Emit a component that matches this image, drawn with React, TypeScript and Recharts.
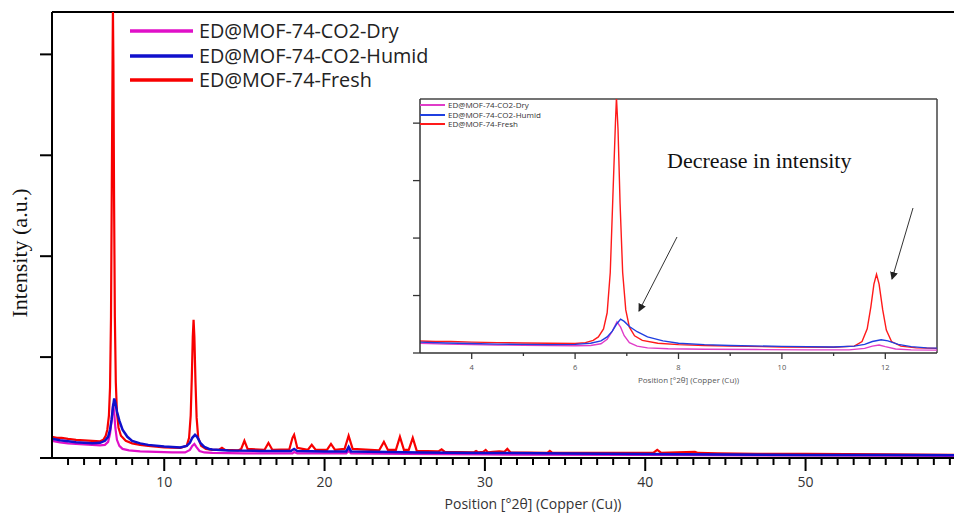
import React from "react";
import { LineChart, Line, XAxis, YAxis, ReferenceLine, Legend, Label } from "recharts";

// XRD patterns, intensity in arbitrary units
const SERIES_NAMES = ["ED@MOF-74-CO2-Dry", "ED@MOF-74-CO2-Humid", "ED@MOF-74-Fresh"];

const freshRaw: [number, number][] = [
  [3.0, 0.21], [3.3, 0.2], [3.6, 0.2], [4.0, 0.19], [4.5, 0.18], [5.0, 0.175], [5.5, 0.17], [6.0, 0.165],
  [6.2, 0.18], [6.35, 0.22], [6.45, 0.28], [6.55, 0.42], [6.62, 0.7], [6.68, 1.4], [6.73, 2.7], [6.78, 4.0],
  [6.8, 4.45], [6.83, 3.9], [6.87, 2.6], [6.92, 1.4], [6.98, 0.75], [7.05, 0.45], [7.15, 0.3], [7.3, 0.22],
  [7.6, 0.17], [8.0, 0.145], [8.5, 0.13], [9.0, 0.12], [10.0, 0.105], [11.0, 0.1], [11.4, 0.12], [11.55, 0.2],
  [11.65, 0.42], [11.72, 0.8], [11.78, 1.2], [11.83, 1.37], [11.88, 1.2], [11.95, 0.75], [12.02, 0.4],
  [12.12, 0.2], [12.3, 0.12], [12.6, 0.09], [13.0, 0.08], [13.4, 0.08], [13.6, 0.1], [13.8, 0.08],
  [14.6, 0.075], [14.8, 0.09], [15.0, 0.17], [15.2, 0.09], [16.25, 0.08], [16.5, 0.15], [16.75, 0.08],
  [17.8, 0.085], [18.0, 0.2], [18.1, 0.23], [18.3, 0.1], [18.95, 0.08], [19.2, 0.13], [19.45, 0.08],
  [20.15, 0.08], [20.4, 0.14], [20.65, 0.08], [21.25, 0.09], [21.5, 0.22], [21.75, 0.09], [23.4, 0.075],
  [23.7, 0.16], [23.95, 0.08], [24.45, 0.08], [24.7, 0.21], [24.95, 0.08], [25.25, 0.08], [25.5, 0.2],
  [25.75, 0.07], [27.1, 0.065], [27.3, 0.085], [27.5, 0.06], [29.3, 0.055], [29.45, 0.07], [29.6, 0.055],
  [29.9, 0.06], [30.05, 0.08], [30.2, 0.055], [30.5, 0.06], [30.9, 0.065], [31.2, 0.06], [31.4, 0.09],
  [31.6, 0.055], [33.9, 0.05], [34.05, 0.07], [34.2, 0.05], [36.5, 0.05], [38.2, 0.05], [40.5, 0.05],
  [40.75, 0.08], [41.0, 0.05], [42.0, 0.055], [43.1, 0.06], [43.3, 0.05], [44.5, 0.045], [47, 0.04],
  [50, 0.04], [55, 0.035], [60, 0.03], [63, 0.03],
];

const humidRaw: [number, number][] = [
  [3.0, 0.19], [3.5, 0.175], [4.0, 0.165], [4.5, 0.155], [5.0, 0.15], [5.5, 0.145], [6.0, 0.15], [6.3, 0.17],
  [6.5, 0.21], [6.62, 0.28], [6.72, 0.38], [6.8, 0.5], [6.88, 0.59], [6.95, 0.55], [7.05, 0.46], [7.2, 0.37],
  [7.4, 0.28], [7.7, 0.21], [8.0, 0.17], [8.5, 0.145], [9.0, 0.13], [10.0, 0.115], [11.0, 0.105],
  [11.4, 0.12], [11.6, 0.15], [11.75, 0.2], [11.92, 0.23], [12.05, 0.21], [12.25, 0.15], [12.5, 0.11],
  [12.8, 0.09], [13.0, 0.085], [14, 0.075], [16, 0.07], [17.9, 0.07], [18.1, 0.09], [18.3, 0.07],
  [20, 0.065], [21.35, 0.065], [21.5, 0.11], [21.65, 0.065], [24, 0.06], [26, 0.055], [30, 0.05],
  [35, 0.045], [40, 0.04], [45, 0.035], [50, 0.03], [55, 0.03], [63, 0.025],
];

const dryRaw: [number, number][] = [
  [3.0, 0.17], [3.5, 0.155], [4.0, 0.145], [4.5, 0.14], [5.0, 0.135], [5.5, 0.13], [6.0, 0.125], [6.3, 0.13],
  [6.5, 0.16], [6.62, 0.24], [6.72, 0.38], [6.81, 0.54], [6.88, 0.45], [6.95, 0.3], [7.05, 0.18], [7.2, 0.12],
  [7.4, 0.09], [7.8, 0.075], [8.5, 0.065], [9.5, 0.06], [10.5, 0.055], [11.3, 0.055], [11.6, 0.08],
  [11.75, 0.12], [11.88, 0.14], [12.0, 0.11], [12.2, 0.07], [12.5, 0.055], [13, 0.05], [15, 0.045],
  [18, 0.045], [18.1, 0.06], [18.3, 0.045], [21.35, 0.045], [21.5, 0.07], [21.65, 0.045], [25, 0.04],
  [30, 0.035], [40, 0.03], [50, 0.025], [63, 0.02],
];

const MAIN_MAJOR_TICKS = [10, 20, 30, 40, 50];
const MAIN_X_TICKS = Array.from({ length: 59 }, (_, i) => i + 4);
const INSET_MAJOR_TICKS = [4, 6, 8, 10, 12];
const INSET_X_TICKS = [4, 5, 6, 7, 8, 9, 10, 11, 12];
const Y_TICKS = [0, 1, 2, 3, 4];

const toPts = (raw: [number, number][]) => raw.map(([x, y]) => ({ x, y }));
const freshData = toPts(freshRaw);
const humidData = toPts(humidRaw);
const dryData = toPts(dryRaw);

const SANS = "'Open Sans', 'Noto Sans', sans-serif";
const SERIF = "'Liberation Serif', 'DejaVu Serif', serif";
const Y_MAX = 4.42;

function MainTick(props: any) {
  const { x, y, payload } = props;
  const major = MAIN_MAJOR_TICKS.includes(payload.value);
  return (
    <g>
      <line x1={x} y1={y} x2={x} y2={y + (major ? 13 : 7)} stroke="#000" strokeWidth={2} />
      {major && (
        <text x={x} y={y + 29} textAnchor="middle" fontSize={14} fill="#333" fontFamily={SANS}>
          {payload.value}
        </text>
      )}
    </g>
  );
}

function InsetTick(props: any) {
  const { x, y, payload } = props;
  const major = INSET_MAJOR_TICKS.includes(payload.value);
  return (
    <g>
      <line x1={x} y1={y} x2={x} y2={y + (major ? 6 : 3)} stroke="#333" strokeWidth={1.3} />
      {major && (
        <text x={x} y={y + 17} textAnchor="middle" fontSize={7.5} fill="#555" fontFamily={SANS}>
          {payload.value}
        </text>
      )}
    </g>
  );
}

const NoLabel = () => <g />;

const sortByName = (payload: any[] = []) =>
  [...payload].sort((a, b) => SERIES_NAMES.indexOf(a.value) - SERIES_NAMES.indexOf(b.value));

function MainLegend({ payload }: any) {
  return (
    <div>
      {sortByName(payload).map((p: any) => (
        <div key={p.value} style={{ display: "flex", alignItems: "center", height: 24.5 }}>
          <svg width={63} height={6} style={{ marginRight: 6 }}>
            <line x1={0} y1={3} x2={63} y2={3} stroke={p.color} strokeWidth={3.5} />
          </svg>
          <span style={{ fontFamily: SANS, fontSize: 19.8, color: "#222", lineHeight: 1 }}>{p.value}</span>
        </div>
      ))}
    </div>
  );
}

function InsetLegend({ payload }: any) {
  return (
    <div>
      {sortByName(payload).map((p: any) => (
        <div key={p.value} style={{ display: "flex", alignItems: "center", height: 9.7 }}>
          <svg width={25} height={4} style={{ marginRight: 3 }}>
            <line x1={0} y1={2} x2={25} y2={2} stroke={p.color} strokeWidth={2} />
          </svg>
          <span style={{ fontFamily: SANS, fontSize: 8, color: "#333", lineHeight: 1 }}>{p.value}</span>
        </div>
      ))}
    </div>
  );
}

export default function App() {
  return (
    <div style={{ position: "fixed", left: 0, top: 0, width: 954, height: 517, overflow: "hidden", background: "#fff" }}>
      {/* main pattern */}
      <div style={{ position: "absolute", left: 0, top: 0 }}>
        <LineChart width={1014} height={517} margin={{ top: 12, right: 0, bottom: 58, left: 51 }}>
          <XAxis
            type="number"
            dataKey="x"
            domain={[3, 63]}
            allowDataOverflow
            ticks={MAIN_X_TICKS}
            interval={0}
            height={1}
            tickSize={0}
            tickMargin={0}
            tickLine={false}
            tick={(p: any) => <MainTick {...p} />}
            axisLine={{ stroke: "#000", strokeWidth: 2 }}
          >
            <Label
              value="Position [°2θ] (Copper (Cu))"
              position="bottom"
              offset={40}
              style={{ fontSize: 14, fill: "#333", fontFamily: SANS }}
            />
          </XAxis>
          <YAxis
            type="number"
            domain={[0, Y_MAX]}
            allowDataOverflow
            ticks={Y_TICKS}
            interval={0}
            width={1}
            tick={NoLabel}
            tickSize={12}
            tickLine={{ stroke: "#000", strokeWidth: 2 }}
            axisLine={{ stroke: "#000", strokeWidth: 2 }}
          />
          <ReferenceLine y={Y_MAX} stroke="#000" strokeWidth={2} />
          <Legend
            layout="vertical"
            align="center"
            verticalAlign="middle"
            wrapperStyle={{ left: 130, top: 19, width: "auto", height: "auto" }}
            content={(p: any) => <MainLegend {...p} />}
          />
          <Line data={freshData} dataKey="y" name={SERIES_NAMES[2]} stroke="#f80000" strokeWidth={2.2} dot={false} isAnimationActive={false} />
          <Line data={dryData} dataKey="y" name={SERIES_NAMES[0]} stroke="#e010c8" strokeWidth={2.2} dot={false} isAnimationActive={false} />
          <Line data={humidData} dataKey="y" name={SERIES_NAMES[1]} stroke="#1010cc" strokeWidth={2.5} dot={false} isAnimationActive={false} />
        </LineChart>
      </div>

      {/* inset zoom 3-13 °2θ */}
      <div style={{ position: "absolute", left: 400, top: 90 }}>
        <LineChart width={554} height={300} margin={{ top: 9, right: 17, bottom: 36, left: 19 }}>
          <XAxis
            type="number"
            dataKey="x"
            domain={[3, 13]}
            allowDataOverflow
            ticks={INSET_X_TICKS}
            interval={0}
            height={1}
            tickSize={0}
            tickMargin={0}
            tickLine={false}
            tick={(p: any) => <InsetTick {...p} />}
            axisLine={{ stroke: "#333", strokeWidth: 1.5 }}
          >
            <Label
              value="Position [°2θ] (Copper (Cu))"
              position="bottom"
              offset={23}
              dx={10}
              style={{ fontSize: 8, fill: "#555", fontFamily: SANS }}
            />
          </XAxis>
          <YAxis
            type="number"
            domain={[0, Y_MAX]}
            allowDataOverflow
            ticks={Y_TICKS}
            interval={0}
            width={1}
            tick={NoLabel}
            tickSize={7}
            tickLine={{ stroke: "#333", strokeWidth: 1.3 }}
            axisLine={{ stroke: "#333", strokeWidth: 1.5 }}
          />
          <ReferenceLine y={Y_MAX} stroke="#444" strokeWidth={1.5} />
          <ReferenceLine x={13} stroke="#444" strokeWidth={1.5} />
          <Legend
            layout="vertical"
            align="center"
            verticalAlign="middle"
            wrapperStyle={{ left: 20, top: 10, width: "auto", height: "auto" }}
            content={(p: any) => <InsetLegend {...p} />}
          />
          <Line data={freshData} dataKey="y" name={SERIES_NAMES[2]} stroke="#ff1a1a" strokeWidth={1.4} dot={false} isAnimationActive={false} />
          <Line data={dryData} dataKey="y" name={SERIES_NAMES[0]} stroke="#e03cc8" strokeWidth={1.4} dot={false} isAnimationActive={false} />
          <Line data={humidData} dataKey="y" name={SERIES_NAMES[1]} stroke="#1f3fe0" strokeWidth={1.4} dot={false} isAnimationActive={false} />
        </LineChart>
      </div>

      {/* annotations */}
      <svg width={954} height={517} style={{ position: "absolute", left: 0, top: 0, pointerEvents: "none" }}>
        <defs>
          <marker id="arrowHead" markerWidth="8" markerHeight="8" refX="7" refY="4" orient="auto" markerUnits="userSpaceOnUse">
            <path d="M0,0 L8,4 L0,8 Z" fill="#222" />
          </marker>
        </defs>
        <text x={27} y={253} transform="rotate(-90 27 253)" textAnchor="middle" fontSize={22} fontFamily={SERIF} fill="#111">
          Intensity (a.u.)
        </text>
        <text x={667} y={168} fontSize={22} fontFamily={SERIF} fill="#111">
          Decrease in intensity
        </text>
        <line x1={677} y1={237} x2={639} y2={311} stroke="#333" strokeWidth={1} markerEnd="url(#arrowHead)" />
        <line x1={913} y1={208} x2={892} y2={279} stroke="#333" strokeWidth={1} markerEnd="url(#arrowHead)" />
      </svg>
    </div>
  );
}
